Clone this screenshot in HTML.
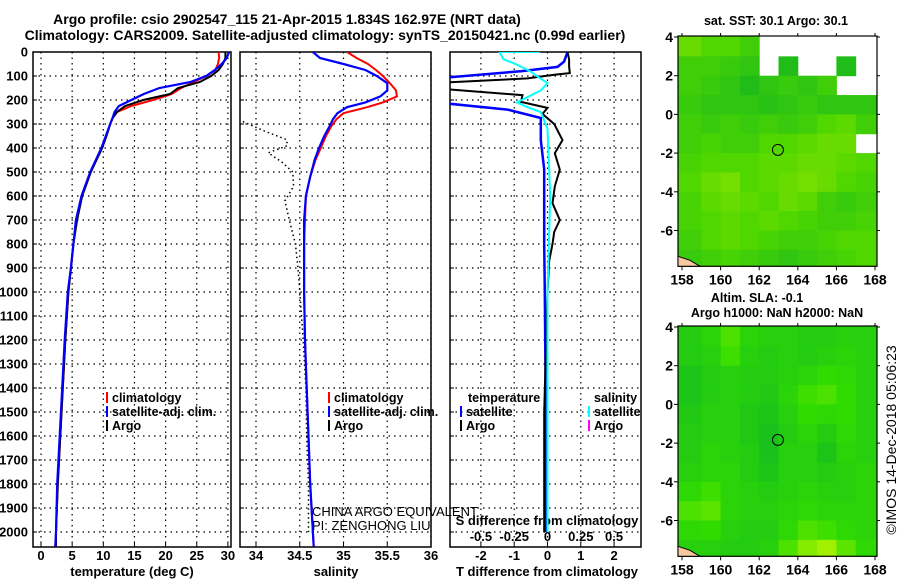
<!DOCTYPE html>
<html><head><meta charset="utf-8">
<style>
body{margin:0;background:#fff;}
svg{display:block;font-family:"Liberation Sans",sans-serif;}
.b{font-weight:bold;font-size:13px;}
</style></head>
<body>
<svg id="c" width="900" height="580" viewBox="0 0 900 580">
<defs>
<clipPath id="p1c"><rect x="33" y="52" width="198" height="495"/></clipPath>
<clipPath id="p2c"><rect x="240" y="52" width="191" height="495"/></clipPath>
<clipPath id="p3c"><rect x="450" y="52" width="191" height="495"/></clipPath>
</defs>
<text x="287" y="24" text-anchor="middle" class="b" style="font-size:14px">Argo profile: csio 2902547_115 21-Apr-2015 1.834S 162.97E (NRT data)</text>
<text x="325" y="40" text-anchor="middle" class="b" style="font-size:14px">Climatology: CARS2009. Satellite-adjusted climatology: synTS_20150421.nc (0.99d earlier)</text>
<g id="g"></g>
</svg>
<script>
// ---- profile data ----
const climDepth=[0,25,50,75,100,125,150,175,200,225,250,275,300,350,400,500,600,700,800,900,1000,1200,1400,1600,1800,2000,2060];
const climT=[28.5,28.6,28.4,28.0,26.6,24.5,22.5,21,18,14.5,12.2,11.5,11.1,10.5,9.8,8.0,6.6,5.7,5.2,4.8,4.4,3.9,3.5,3.1,2.7,2.4,2.3];
const satT=[30.2,29.8,29.0,27.9,26.5,24.0,19.0,16.5,14.5,12.5,11.8,11.5,11.1,10.4,9.7,7.9,6.5,5.6,5.2,4.8,4.3,3.8,3.4,3.0,2.6,2.4,2.3];
const argoT=[29.6,29.6,29.2,28.5,27.3,25.5,22.0,20.7,16.4,13.5,12.2,11.5,11.1,10.5,9.8,8.0,6.6,5.8,5.2,4.8,4.4,3.9,3.5,3.1,2.7,2.4,2.4];
const salDepth=[0,25,50,75,100,130,160,185,210,230,255,280,310,350,400,450,520,600,700,800,1000,1200,1400,1600,1800,2000,2060];
const climS=[35.04,35.15,35.28,35.37,35.45,35.53,35.60,35.61,35.45,35.27,35.0,34.92,34.86,34.8,34.74,34.68,34.62,34.57,34.56,34.55,34.55,34.56,34.58,34.6,34.62,34.65,34.66];
const satS=[34.65,34.73,35.0,35.25,35.38,35.5,35.5,35.42,35.25,35.04,34.93,34.88,34.84,34.78,34.72,34.67,34.62,34.57,34.55,34.55,34.55,34.56,34.58,34.6,34.62,34.65,34.66];
const dotDepth=[290,330,365,390,420,460,500,560,620,700,800,900,1000,1200,1400,1600,1800,2000];
const dotS=[33.85,34.1,34.35,34.36,34.14,34.3,34.42,34.43,34.33,34.38,34.45,34.48,34.5,34.54,34.57,34.58,34.6,34.6];
const argoDDepth=[0,30,60,88,95,110,130,150,180,208,233,258,300,367,422,490,560,630,700,750,800,870,1000,1500,2000];
const argoDiff=[0.6,0.65,0.65,0.67,0.2,-0.6,-3.5,-3.5,-0.75,-0.8,0,-0.15,0.2,0.45,0.22,0.37,0.22,0.15,0.37,0.2,0.15,0.05,0,-0.1,-0.1];
const satDDepth=[0,40,62,80,112,150,208,240,275,300,367,490,630,800,1000,1500,2000];
const satDiff=[0.6,0.5,0.3,-0.8,-3.5,-3.5,-3.5,-1.2,-0.2,-0.2,-0.2,-0.1,-0.1,-0.1,-0.08,-0.05,-0.05];
const sDDepth=[0,0,30,50,80,100,130,160,210,230,250,320,600,1000,1500,2000];
const sDiff=[-0.056,-0.36,-0.33,-0.24,-0.13,-0.08,0,-0.05,-0.23,-0.15,-0.05,0,0.02,0,0,0];
const depthTicks=[0,100,200,300,400,500,600,700,800,900,1000,1100,1200,1300,1400,1500,1600,1700,1800,1900,2000];
const tTicks=[0,5,10,15,20,25,30];
const sTicks=[34,34.5,35,35.5,36];
const dTicks=[-2,-1,0,1,2];
const sdTicks=[-0.5,-0.25,0,0.25,0.5];
const sdTickLabels=["-0.5","-0.25","0","0.25","0.5"];
// ---- map data (rows lat 4..-8 by 1 deg, cols lon 158..168) ----
const sstGrid=[
[0.6,0.5,0.5,0.4,null,null,null,null,null,null],
[0.4,0.4,0.35,0.3,null,0.2,null,null,0.2,null],
[0.4,0.35,0.3,0.2,0.3,0.35,0.3,0.4,null,null],
[0.35,0.3,0.3,0.3,0.25,0.3,0.35,0.3,0.3,0.3],
[0.4,0.35,0.4,0.35,0.4,0.35,0.4,0.5,0.55,0.4],
[0.4,0.45,0.4,0.4,0.5,0.5,0.55,0.6,0.6,null],
[0.45,0.5,0.5,0.5,0.55,0.55,0.6,0.6,0.55,0.5],
[0.5,0.6,0.65,0.5,0.55,0.6,0.65,0.6,0.5,0.45],
[0.45,0.55,0.6,0.55,0.5,0.6,0.55,0.4,0.35,0.4],
[0.45,0.5,0.55,0.5,0.55,0.5,0.45,0.4,0.4,0.45],
[0.4,0.5,0.55,0.5,0.45,0.4,0.4,0.45,0.5,0.5],
[0.35,0.4,0.45,0.4,0.35,0.3,0.35,0.4,0.45,0.5]];
const slaGrid=[
[0.3,0.4,0.6,0.4,0.35,0.35,0.3,0.3,0.35,0.35],
[0.3,0.35,0.55,0.35,0.3,0.35,0.3,0.35,0.4,0.35],
[0.2,0.3,0.35,0.3,0.3,0.35,0.4,0.5,0.45,0.35],
[0.2,0.3,0.35,0.3,0.25,0.4,0.55,0.6,0.5,0.35],
[0.25,0.35,0.35,0.25,0.2,0.35,0.5,0.45,0.5,0.35],
[0.3,0.35,0.35,0.25,0.15,0.3,0.4,0.3,0.45,0.35],
[0.3,0.4,0.35,0.3,0.15,0.35,0.35,0.2,0.4,0.35],
[0.35,0.4,0.4,0.3,0.2,0.35,0.35,0.3,0.35,0.4],
[0.45,0.55,0.4,0.35,0.3,0.35,0.4,0.35,0.35,0.4],
[0.6,0.65,0.4,0.35,0.35,0.4,0.45,0.4,0.4,0.4],
[0.45,0.5,0.35,0.3,0.3,0.45,0.6,0.55,0.45,0.4],
[0.35,0.35,0.3,0.3,0.35,0.6,0.8,0.9,0.65,0.45]];
const lonTicks=[158,160,162,164,166,168];
const latTicks=[4,2,0,-2,-4,-6];
const argoLon=162.97, argoLat=-1.834;

const NS="http://www.w3.org/2000/svg";
const G=document.getElementById('g');
function el(tag,attrs,parent,txt){const e=document.createElementNS(NS,tag);for(const k in attrs)e.setAttribute(k,attrs[k]);if(txt!==undefined)e.textContent=txt;(parent||G).appendChild(e);return e;}
const dY=d=>52+0.24*d;
const tX=t=>41+6.23*t;
const sX=s=>256+87.5*(s-34);
const dX=v=>547.5+33.3*v;
const sdX=v=>547.5+133.2*v;
function line(xs,ds,fx,color,w,clip,name,dash){
  const pts=xs.map((v,i)=>fx(v).toFixed(1)+','+dY(ds[i]).toFixed(1)).join(' ');
  const p=el('polyline',{points:pts,fill:'none',stroke:color,'stroke-width':w,'clip-path':'url(#'+clip+')'});
  if(dash)p.setAttribute('stroke-dasharray',dash);
  
  
}
function panel(x0,x1,clip,vt,fx,name){
  const g=el('g',{});
  
  
  depthTicks.forEach(d=>{ if(d>0) el('line',{x1:x0,x2:x1,y1:dY(d),y2:dY(d),stroke:'#000','stroke-width':1.2,'stroke-dasharray':'1.5,4'},g); el('line',{x1:x0,x2:x0+4,y1:dY(d),y2:dY(d),stroke:'#000'},g);});
  vt.forEach(v=>{ const x=fx(v); el('line',{x1:x,x2:x,y1:52,y2:547,stroke:'#000','stroke-width':1.2,'stroke-dasharray':'1.5,4'},g); el('line',{x1:x,x2:x,y1:543,y2:547,stroke:'#000'},g);});
  el('rect',{x:x0,y:52,width:x1-x0,height:495,fill:'none',stroke:'#000','stroke-width':1.5},g);
}
panel(33,231,'p1c',tTicks,tX,'temperature-panel');
panel(240,431,'p2c',sTicks,sX,'salinity-panel');
panel(450,641,'p3c',dTicks,dX,'difference-panel');
depthTicks.forEach(d=>{const t=el('text',{x:28,y:dY(d)+4.5,'text-anchor':'end',class:'b'},G,String(d));
  
  });
tTicks.forEach(v=>{const t=el('text',{x:tX(v),y:560,'text-anchor':'middle',class:'b'},G,String(v));
  
  });
sTicks.forEach(v=>{const t=el('text',{x:sX(v),y:560,'text-anchor':'middle',class:'b'},G,String(v));
  
  });
dTicks.forEach(v=>{const t=el('text',{x:dX(v),y:560,'text-anchor':'middle',class:'b'},G,String(v));
  
  });
sdTicks.forEach((v,i)=>{const t=el('text',{x:sdX(v),y:541,'text-anchor':'middle',class:'b'},G,sdTickLabels[i]);
  
  });
[['temperature (deg C)',132,'temperature-axis-title'],['salinity',336,'salinity-axis-title'],['T difference from climatology',547,'t-diff-axis-title']].forEach(a=>{
  const t=el('text',{x:a[1],y:576,'text-anchor':'middle',class:'b'},G,a[0]);
  
  });
{const t=el('text',{x:547,y:525,'text-anchor':'middle',class:'b'},G,'S difference from climatology');
 
 }
line(climT,climDepth,tX,'#f00',2,'p1c','temp-climatology-line');
line(argoT,climDepth,tX,'#000',2,'p1c','temp-argo-line');
line(satT,climDepth,tX,'#00f',2.2,'p1c','temp-satellite-line');
line(dotS,dotDepth,sX,'#000',1.5,'p2c','salinity-argo-dotted-line','1.5,3');
line(climS,salDepth,sX,'#f00',2,'p2c','salinity-climatology-line');
line(satS,salDepth,sX,'#00f',2.2,'p2c','salinity-satellite-line');
line(satDiff,satDDepth,dX,'#00f',2.5,'p3c','t-diff-satellite-line');
line(argoDiff,argoDDepth,dX,'#000',2,'p3c','t-diff-argo-line');
line(sDiff,sDDepth,sdX,'#0ff',2,'p3c','s-diff-satellite-line');
function leg(x,y,color,label,name){
  const g=el('g',{});
  
  
  if(color) el('rect',{x:x,y:y-10,width:2,height:11,fill:color},g);
  el('text',{x:x+6,y:y,class:'b',style:'font-size:12.5px'},g,label);
}
leg(106,402,'#f00','climatology','legend-climatology');
leg(106,416,'#00f','satellite-adj. clim.','legend-satellite-adj');
leg(106,430,'#000','Argo','legend-argo');
leg(328,402,'#f00','climatology','legend-sal-climatology');
leg(328,416,'#00f','satellite-adj. clim.','legend-sal-satellite-adj');
leg(328,430,'#000','Argo','legend-sal-argo');
leg(462,402,null,'temperature','legend-temperature-heading');
leg(460,416,'#00f','satellite','legend-t-satellite');
leg(460,430,'#000','Argo','legend-t-argo');
leg(588,402,null,'salinity','legend-salinity-heading');
leg(588,416,'#0ff','satellite','legend-s-satellite');
leg(588,430,'#f0f','Argo','legend-s-argo');
{const t=el('text',{x:312,y:516,style:'font-size:13px'},G,'CHINA ARGO EQUIVALENT');
  
 const u=el('text',{x:312,y:530,style:'font-size:13px'},G,'PI: ZENGHONG LIU');
  }
function lerp(a,b,t){return a.map((v,i)=>Math.round(v+(b[i]-v)*t));}
function sstCol(v){const c0=[0,170,40],c1=[80,215,0],c2=[200,240,0];const c=v<0.5?lerp(c0,c1,v/0.5):lerp(c1,c2,(v-0.5)/0.5);return 'rgb('+c+')';}
function slaCol(v){const c0=[16,180,40],c1=[48,220,0],c2=[190,245,0];const c=v<0.5?lerp(c0,c1,v/0.5):lerp(c1,c2,(v-0.5)/0.5);return 'rgb('+c+')';}
function map(top,grid,colf,name,titles){
  const lonX=l=>682+19.3*(l-158);
  const latY=l=>top+1+19.35*(4-l);
  const g=el('g',{});
  
  
  const fx0=678,fx1=877,fy0=top,fy1=latY(-7.85);
  grid.forEach((row,r)=>row.forEach((v,c)=>{
    if(v===null) return;
    const xa=(c===0)?fx0:lonX(158+c), xb=(c===9)?fx1:lonX(159+c)+0.5;
    const ya=(r===0)?fy0:latY(4-r), yb=(r===11)?fy1:latY(3-r)+0.5;
    const cell=el('rect',{x:xa,y:ya,width:xb-xa,height:yb-ya,fill:colf(v)},g);
    
    
  }));
  el('rect',{x:fx0,y:fy0,width:fx1-fx0,height:fy1-fy0,fill:'none',stroke:'#000','stroke-width':1.2},g);
  el('polygon',{points:(fx0)+','+(fy1-10)+' '+(fx0+12)+','+(fy1-6)+' '+(fx0+22)+','+fy1+' '+fx0+','+fy1,fill:'#f6c8a0',stroke:'#000'},g);
  const ac=el('circle',{cx:lonX(argoLon),cy:latY(argoLat),r:5.5,fill:'none',stroke:'#000','stroke-width':1},g);
  
  
  lonTicks.forEach(l=>{el('line',{x1:lonX(l),x2:lonX(l),y1:fy1,y2:fy1+4,stroke:'#000'},g);el('line',{x1:lonX(l),x2:lonX(l),y1:fy0,y2:fy0-3,stroke:'#000'},g);
    el('text',{x:lonX(l),y:fy1+18,'text-anchor':'middle',class:'b',style:'font-size:14px'},g,String(l));});
  latTicks.forEach(l=>{el('line',{x1:fx0-4,x2:fx0,y1:latY(l),y2:latY(l),stroke:'#000'},g);el('line',{x1:fx1,x2:fx1+3,y1:latY(l),y2:latY(l),stroke:'#000'},g);
    el('text',{x:673,y:latY(l)+5,'text-anchor':'end',class:'b',style:'font-size:14px'},g,String(l));});
  titles.forEach(t=>el('text',{x:t[1],y:t[2],'text-anchor':'middle',class:'b',style:'font-size:12.5px'},g,t[0]));
}
map(36,sstGrid,sstCol,'sst-map',[['sat. SST: 30.1 Argo: 30.1',776,25]]);
map(326,slaGrid,slaCol,'sla-map',[['Altim. SLA: -0.1',757,302],['Argo h1000: NaN h2000: NaN',777,317]]);
{const t=el('text',{x:0,y:0,transform:'translate(896,440) rotate(-90)','text-anchor':'middle',style:'font-size:14px'},G,'©IMOS 14-Dec-2018 05:06:23');
  }
</script>
</body></html>
